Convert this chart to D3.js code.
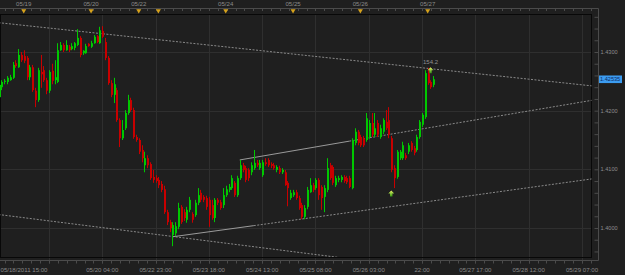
<!DOCTYPE html>
<html>
<head>
<meta charset="utf-8">
<script src="https://cdn.jsdelivr.net/npm/d3@7"></script>
<style>
html, body { margin: 0; padding: 0; background: #1f1f1f; overflow: hidden; }
svg { display: block; }
text { font-family: "Liberation Sans", Arial, sans-serif; }
</style>
</head>
<body>
<div id="chart"></div>
<script>
// hourly candles, bar 0 = 05/18/2011 15:00
var openP = [1.4223,1.4240,1.4249,1.4249,1.4252,1.4256,1.4281,1.4274,1.4295,1.4293,
 1.4290,1.4257,1.4274,1.4234,1.4218,1.4266,1.4269,1.4252,1.4234,1.4268,
 1.4252,1.4249,1.4303,1.4312,1.4303,1.4309,1.4305,1.4307,1.4312,1.4324,
 1.4298,1.4298,1.4314,1.4309,1.4315,1.4327,1.4315,1.4336,1.4317,1.4290,
 1.4247,1.4227,1.4235,1.4184,1.4153,1.4170,1.4196,1.4218,1.4201,1.4155,
 1.4150,1.4133,1.4107,1.4119,1.4109,1.4087,1.4085,1.4082,1.4075,1.4066,
 1.4027,1.4010,1.3988,1.3991,1.4002,1.4036,1.4027,1.4014,1.4031,1.4024,
 1.4022,1.4043,1.4060,1.4053,1.4051,1.4048,1.4039,1.4017,1.4048,1.4044,
 1.4039,1.4056,1.4065,1.4068,1.4077,1.4056,1.4085,1.4107,1.4102,1.4099,
 1.4095,1.4102,1.4111,1.4102,1.4090,1.4112,1.4116,1.4109,1.4107,1.4099,
 1.4102,1.4095,1.4095,1.4077,1.4051,1.4056,1.4061,1.4051,1.4039,1.4019,
 1.4036,1.4061,1.4073,1.4068,1.4082,1.4070,1.4053,1.4065,1.4107,1.4104,
 1.4073,1.4082,1.4082,1.4087,1.4085,1.4085,1.4068,1.4145,1.4164,1.4155,
 1.4153,1.4150,1.4155,1.4179,1.4159,1.4179,1.4155,1.4164,1.4181,1.4184,
 1.4153,1.4102,1.4087,1.4119,1.4119,1.4124,1.4130,1.4145,1.4136,1.4133,
 1.4155,1.4176,1.4189,1.4264,1.4249,1.4244];
var highP = [1.4249,1.4252,1.4254,1.4259,1.4261,1.4283,1.4286,1.4305,1.4300,1.4303,
 1.4293,1.4278,1.4278,1.4239,1.4273,1.4295,1.4276,1.4256,1.4269,1.4280,
 1.4286,1.4315,1.4317,1.4315,1.4320,1.4312,1.4315,1.4317,1.4339,1.4327,
 1.4303,1.4314,1.4315,1.4319,1.4329,1.4329,1.4343,1.4344,1.4324,1.4293,
 1.4252,1.4256,1.4239,1.4187,1.4184,1.4201,1.4227,1.4222,1.4205,1.4159,
 1.4153,1.4141,1.4130,1.4124,1.4112,1.4099,1.4090,1.4087,1.4080,1.4072,
 1.4031,1.4014,1.4010,1.4010,1.4043,1.4039,1.4032,1.4036,1.4053,1.4027,
 1.4048,1.4068,1.4065,1.4056,1.4055,1.4053,1.4048,1.4051,1.4051,1.4048,
 1.4068,1.4072,1.4075,1.4090,1.4080,1.4089,1.4116,1.4111,1.4106,1.4102,
 1.4112,1.4133,1.4116,1.4116,1.4116,1.4119,1.4119,1.4112,1.4111,1.4107,
 1.4106,1.4102,1.4099,1.4080,1.4065,1.4065,1.4065,1.4055,1.4043,1.4039,
 1.4070,1.4085,1.4077,1.4085,1.4085,1.4073,1.4073,1.4119,1.4111,1.4107,
 1.4089,1.4089,1.4090,1.4090,1.4089,1.4089,1.4153,1.4170,1.4167,1.4159,
 1.4157,1.4196,1.4184,1.4196,1.4196,1.4184,1.4176,1.4187,1.4201,1.4206,
 1.4157,1.4107,1.4133,1.4133,1.4147,1.4128,1.4145,1.4148,1.4140,1.4159,
 1.4184,1.4196,1.4269,1.4273,1.4252,1.4259];
var lowP = [1.4218,1.4235,1.4245,1.4245,1.4251,1.4254,1.4273,1.4273,1.4283,1.4281,
 1.4252,1.4252,1.4232,1.4206,1.4215,1.4239,1.4249,1.4228,1.4230,1.4245,
 1.4245,1.4247,1.4302,1.4300,1.4302,1.4300,1.4303,1.4303,1.4310,1.4291,
 1.4295,1.4297,1.4309,1.4307,1.4314,1.4315,1.4314,1.4324,1.4286,1.4244,
 1.4223,1.4213,1.4181,1.4138,1.4150,1.4167,1.4193,1.4198,1.4152,1.4147,
 1.4126,1.4112,1.4095,1.4102,1.4082,1.4077,1.4077,1.4068,1.4061,1.4024,
 1.4005,1.3993,1.3969,1.3986,1.3998,1.4007,1.4012,1.4009,1.4027,1.4009,
 1.4019,1.4039,1.4044,1.4044,1.4031,1.4002,1.4014,1.4010,1.4039,1.4031,
 1.4034,1.4053,1.4061,1.4065,1.4053,1.4053,1.4082,1.4095,1.4078,1.4080,
 1.4090,1.4099,1.4104,1.4099,1.4087,1.4106,1.4104,1.4102,1.4099,1.4095,
 1.4092,1.4092,1.4072,1.4037,1.4048,1.4053,1.4048,1.4031,1.4015,1.4015,
 1.4032,1.4060,1.4061,1.4065,1.4048,1.4031,1.4027,1.4061,1.4082,1.4073,
 1.4070,1.4078,1.4078,1.4077,1.4075,1.4068,1.4066,1.4141,1.4141,1.4138,
 1.4138,1.4147,1.4152,1.4155,1.4155,1.4155,1.4152,1.4160,1.4167,1.4153,
 1.4095,1.4068,1.4084,1.4116,1.4116,1.4116,1.4126,1.4130,1.4124,1.4130,
 1.4152,1.4172,1.4186,1.4244,1.4237,1.4240];
var closeP = [1.4244,1.4249,1.4251,1.4256,1.4257,1.4278,1.4276,1.4295,1.4286,1.4285,
 1.4257,1.4274,1.4235,1.4218,1.4269,1.4262,1.4252,1.4234,1.4266,1.4251,
 1.4257,1.4303,1.4312,1.4303,1.4312,1.4303,1.4310,1.4315,1.4324,1.4295,
 1.4302,1.4310,1.4310,1.4315,1.4326,1.4317,1.4337,1.4326,1.4290,1.4247,
 1.4227,1.4245,1.4184,1.4153,1.4167,1.4196,1.4218,1.4201,1.4155,1.4150,
 1.4130,1.4119,1.4119,1.4107,1.4085,1.4082,1.4080,1.4073,1.4065,1.4027,
 1.4010,1.4000,1.4005,1.4003,1.4034,1.4010,1.4017,1.4031,1.4048,1.4014,
 1.4043,1.4056,1.4048,1.4048,1.4036,1.4022,1.4017,1.4048,1.4043,1.4034,
 1.4056,1.4066,1.4070,1.4085,1.4056,1.4085,1.4107,1.4099,1.4082,1.4085,
 1.4107,1.4111,1.4107,1.4111,1.4112,1.4109,1.4107,1.4106,1.4102,1.4104,
 1.4095,1.4099,1.4073,1.4068,1.4060,1.4061,1.4051,1.4034,1.4019,1.4034,
 1.4065,1.4073,1.4065,1.4082,1.4056,1.4051,1.4068,1.4102,1.4085,1.4077,
 1.4085,1.4085,1.4087,1.4080,1.4078,1.4070,1.4150,1.4164,1.4145,1.4141,
 1.4141,1.4187,1.4179,1.4159,1.4170,1.4159,1.4170,1.4184,1.4170,1.4159,
 1.4099,1.4085,1.4130,1.4130,1.4141,1.4119,1.4141,1.4133,1.4128,1.4155,
 1.4181,1.4193,1.4264,1.4247,1.4240,1.42535];

var lastPrice = 1.42535;

// time axis (bar indexes)
var startLabel = "05/18/2011 15:00";
var gridBars = [18, 37, 56, 75, 94, 113, 132, 151, 170, 189, 208];
var timeLabels = ["", "05/20 04:00", "05/22 23:00", "05/23 18:00", "05/24 13:00", "05/25 08:00",
  "05/26 03:00", "22:00", "05/27 17:00", "05/28 12:00", "05/29 07:00"];
var dayBars = [9, 33, 50, 57, 81, 105, 129, 153];
var dayLabels = ["05/19", "05/20", "05/22", "", "05/24", "05/25", "05/26", "05/27"];

// price axis
var priceTicks = [1.40, 1.41, 1.42, 1.43];

// trend lines [bar1, price1, bar2, price2]
var solidLines = [[62, 1.3985, 91, 1.4004], [86, 1.4116, 125, 1.4148]];
var dottedLines = [[0, 1.4350, 212, 1.4242], [0, 1.4023, 121, 1.3950],
  [91, 1.4004, 212, 1.4084], [125, 1.4148, 212, 1.4218]];

// signal arrows
var arrowBars = [140, 154];
var arrowPrices = [1.4064, 1.4274];
var noteBar = 154, notePrice = 1.4283, noteText = "154.2";

var W = 625, H = 275;
var plot = {left: 0, top: 14, right: 591.5, bottom: 257};

var x = d3.scaleLinear().domain([0, 212]).range([-1.5, 593.2]);
var y = d3.scaleLinear().domain([1.40, 1.43]).range([228, 52]);

var svg = d3.select('#chart').append('svg')
  .attr('width', W).attr('height', H);

var defs = svg.append('defs');
defs.append('clipPath').attr('id', 'clip')
  .append('rect')
  .attr('x', plot.left).attr('y', plot.top)
  .attr('width', plot.right - plot.left).attr('height', plot.bottom - plot.top);
var grad = defs.append('linearGradient').attr('id', 'arrowfill')
  .attr('x1', 0).attr('y1', 0).attr('x2', 0).attr('y2', 1);
grad.append('stop').attr('offset', '0%').attr('stop-color', '#eef36a');
grad.append('stop').attr('offset', '100%').attr('stop-color', '#2f9a10');

svg.append('rect').attr('width', W).attr('height', H).attr('fill', '#1f1f1f');

// grid
var grid = svg.append('g').attr('stroke', '#2f2f2f').attr('stroke-width', 1);
grid.selectAll('.vg').data(gridBars).enter().append('line')
  .attr('x1', d => Math.round(x(d)) + 0.5).attr('x2', d => Math.round(x(d)) + 0.5)
  .attr('y1', plot.top).attr('y2', 264);
grid.selectAll('.hg').data(priceTicks).enter().append('line')
  .attr('x1', plot.left).attr('x2', plot.right)
  .attr('y1', d => Math.round(y(d)) + 0.5).attr('y2', d => Math.round(y(d)) + 0.5);

// axis lines
var axisCol = '#4b4b4b';
svg.append('line').attr('x1', 0).attr('x2', 598.5).attr('y1', 8.5).attr('y2', 8.5).attr('stroke', axisCol);
svg.append('line').attr('x1', 0).attr('x2', 598.5).attr('y1', 260.5).attr('y2', 260.5).attr('stroke', axisCol);
svg.append('line').attr('x1', 598.5).attr('x2', 598.5).attr('y1', 8.5).attr('y2', 260.5).attr('stroke', axisCol);

// minor time ticks
var minorBars = d3.range(18 - 19, 213, 19 / 6);
svg.selectAll('.tt').data(minorBars).enter().append('line')
  .attr('x1', d => Math.round(x(d)) + 0.5).attr('x2', d => Math.round(x(d)) + 0.5)
  .attr('y1', 8.5).attr('y2', 11).attr('stroke', axisCol);
svg.selectAll('.bt').data(minorBars).enter().append('line')
  .attr('x1', d => Math.round(x(d)) + 0.5).attr('x2', d => Math.round(x(d)) + 0.5)
  .attr('y1', 260.5).attr('y2', 263.5).attr('stroke', axisCol);

// price ticks on the right
var rightAxis = svg.append('g')
  .attr('transform', 'translate(598.5,0)')
  .call(d3.axisLeft(y).tickValues(d3.range(1.396, 1.4365, 0.002)).tickSize(4).tickFormat(''));
rightAxis.select('.domain').remove();
rightAxis.selectAll('line').attr('stroke', axisCol);

svg.selectAll('.pl').data(priceTicks).enter().append('text')
  .attr('x', 600.5).attr('y', d => y(d) + 2)
  .attr('font-size', '5.6px').attr('fill', '#8d8d8d')
  .text(d => d3.format('.4f')(d));

// plot frame
svg.append('rect')
  .attr('x', plot.left + 0.5).attr('y', plot.top + 0.5)
  .attr('width', plot.right - plot.left - 0.5).attr('height', plot.bottom - plot.top)
  .attr('fill', 'none').attr('stroke', '#080808');

// time labels
svg.append('text').attr('x', 0.5).attr('y', 272.3)
  .attr('font-size', '6.1px').attr('fill', '#8a8a8a').text(startLabel);
svg.selectAll('.tl').data(gridBars).enter().append('text')
  .attr('x', d => x(d)).attr('y', 272.3)
  .attr('text-anchor', 'middle').attr('font-size', '6.1px').attr('fill', '#8a8a8a')
  .text((d, i) => timeLabels[i]);

svg.selectAll('.dl').data(dayBars).enter().append('text')
  .attr('x', d => x(d)).attr('y', 6.3)
  .attr('text-anchor', 'middle').attr('font-size', '6.1px').attr('fill', '#8a8a8a')
  .text((d, i) => dayLabels[i]);
svg.selectAll('.dm').data(dayBars).enter().append('path')
  .attr('d', d => { var c = x(d); return 'M' + (c - 2.5) + ',9.3 L' + (c + 2.5) + ',9.3 L' + c + ',13.5 Z'; })
  .attr('fill', '#d6a21c');

// plot contents
var g = svg.append('g').attr('clip-path', 'url(#clip)');

g.selectAll('.dotted').data(dottedLines).enter().append('line')
  .attr('x1', d => x(d[0])).attr('y1', d => y(d[1]))
  .attr('x2', d => x(d[2])).attr('y2', d => y(d[3]))
  .attr('stroke', '#8a8a8a').attr('stroke-width', 1).attr('stroke-dasharray', '2,1.5');
g.selectAll('.solid').data(solidLines).enter().append('line')
  .attr('x1', d => x(d[0])).attr('y1', d => y(d[1]))
  .attr('x2', d => x(d[2])).attr('y2', d => y(d[3]))
  .attr('stroke', '#9a9a9a').attr('stroke-width', 1);

var bars = d3.range(openP.length);
var up = i => closeP[i] >= openP[i];
var green = '#00c800', red = '#c80000';

g.selectAll('.wick').data(bars).enter().append('line')
  .attr('x1', i => Math.round(x(i)) + 0.5).attr('x2', i => Math.round(x(i)) + 0.5)
  .attr('y1', i => y(highP[i])).attr('y2', i => y(lowP[i]))
  .attr('stroke', i => up(i) ? green : red).attr('stroke-width', 1);
g.selectAll('.body').data(bars).enter().append('rect')
  .attr('x', i => Math.round(x(i)))
  .attr('width', 2)
  .attr('y', i => y(Math.max(openP[i], closeP[i])))
  .attr('height', i => Math.max(1, Math.abs(y(openP[i]) - y(closeP[i]))))
  .attr('fill', i => up(i) ? green : red);

// signals
g.selectAll('.arrow').data(arrowBars).enter().append('path')
  .attr('d', (d, i) => {
    var c = x(d), t = y(arrowPrices[i]);
    return 'M' + c + ',' + t + ' L' + (c + 3) + ',' + (t + 3) + ' L' + (c + 1.2) + ',' + (t + 3) +
      ' L' + (c + 1.2) + ',' + (t + 6) + ' L' + (c - 1.2) + ',' + (t + 6) + ' L' + (c - 1.2) + ',' + (t + 3) +
      ' L' + (c - 3) + ',' + (t + 3) + ' Z';
  })
  .attr('fill', 'url(#arrowfill)');

g.append('text').attr('x', x(noteBar)).attr('y', y(notePrice) + 2)
  .attr('text-anchor', 'middle').attr('font-size', '6px').attr('fill', '#8f8f8f')
  .text(noteText);

// current price tag
svg.append('rect').attr('x', 599).attr('y', y(lastPrice) - 3.8)
  .attr('width', 23).attr('height', 7.6).attr('fill', '#3c9cf0');
svg.append('text').attr('x', 600).attr('y', y(lastPrice) + 2)
  .attr('font-size', '5.6px').attr('fill', '#0c2a66')
  .text(d3.format('.5f')(lastPrice));
</script>
</body>
</html>
